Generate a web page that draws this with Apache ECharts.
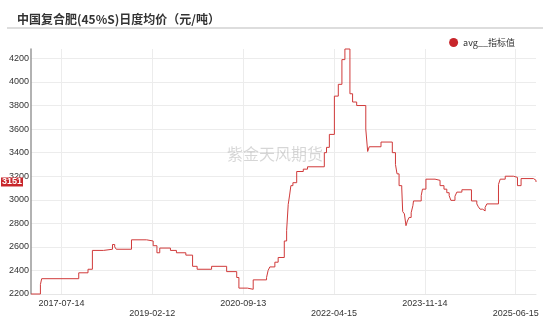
<!DOCTYPE html>
<html>
<head>
<meta charset="utf-8">
<script src="https://cdn.jsdelivr.net/npm/echarts@6/dist/echarts.min.js"></script>
<style>
html,body{margin:0;padding:0;background:#fff;}
#chart{width:550px;height:319px;}
</style>
</head>
<body>
<div id="chart"></div>
<script>
// ---- data (step change points) ----
const titleText = '中国复合肥(45%S)日度均价（元/吨）';
const seriesName = 'avg__指标值';
const startDate = '2017-01-01';
const endDate = '2025-10-22';
const xTickLabels = ['2017-07-14', '2019-02-12', '2020-09-13', '2022-04-15', '2023-11-14', '2025-06-15'];
const yTicks = [2200, 2400, 2600, 2800, 3000, 3200, 3400, 3600, 3800, 4000, 4200];

const changeDates = [
  '2017-01-01','2017-03-02','2017-03-10','2017-11-01','2017-12-30','2018-01-27','2018-04-08','2018-06-04','2018-06-18','2018-06-28',
  '2018-10-03','2019-01-07','2019-02-18','2019-03-14','2019-04-01','2019-06-08','2019-07-16','2019-09-14','2019-10-27','2019-11-25',
  '2020-02-25','2020-05-31','2020-08-03','2020-08-17','2020-10-10','2020-11-16','2021-02-09','2021-02-19','2021-03-02','2021-04-03',
  '2021-04-24','2021-06-02','2021-06-17','2021-06-27','2021-07-06','2021-07-14','2021-07-27','2021-08-20','2021-10-01','2021-10-28',
  '2022-02-12','2022-02-26','2022-03-16','2022-04-17','2022-05-12','2022-06-04','2022-06-23','2022-07-25','2022-08-11','2022-09-06',
  '2022-11-03','2022-11-15','2022-11-25','2023-02-08','2023-04-21','2023-05-11','2023-05-21','2023-06-03','2023-06-20','2023-06-26',
  '2023-07-07','2023-07-17','2023-07-26','2023-08-06','2023-08-19','2023-08-30','2023-09-03','2023-10-22','2023-10-30','2023-11-21',
  '2024-01-18','2024-02-19','2024-03-15','2024-04-02','2024-04-17','2024-04-28','2024-05-24','2024-06-05','2024-07-07','2024-09-06',
  '2024-10-10','2024-10-20','2024-10-31','2024-11-17','2024-12-02','2024-12-13','2025-02-25','2025-03-08','2025-04-09','2025-05-31',
  '2025-06-26','2025-07-19','2025-10-06','2025-10-22'
];
const changeValues = [
  2200,2280,2330,2380,2410,2570,2580,2620,2600,2580,
  2660,2650,2610,2550,2590,2570,2550,2530,2435,2410,
  2435,2390,2340,2250,2240,2320,2340,2400,2430,2470,
  2510,2650,2740,2960,3040,3120,3145,3240,3260,3280,
  3400,3445,3555,3880,3980,4190,4280,3900,3830,3800,
  3600,3410,3450,3490,3400,3300,3220,3120,3100,2900,
  2880,2780,2820,2850,2890,2950,2990,3035,3090,3175,
  3165,3120,3090,3060,3035,2995,3030,3065,3085,2990,
  2965,2940,2920,2905,2935,2965,3130,3175,3200,3190,
  3120,3180,3165,3151
];

// ---- daily categories for the axis ----
function fmt(d){
  const m = d.getUTCMonth()+1, day = d.getUTCDate();
  return d.getUTCFullYear() + '-' + (m<10?'0':'') + m + '-' + (day<10?'0':'') + day;
}
const categories = [];
{
  const s = new Date(startDate + 'T00:00:00Z'), e = new Date(endDate + 'T00:00:00Z');
  for (let t = s.getTime(); t <= e.getTime(); t += 86400000) categories.push(fmt(new Date(t)));
}
const seriesData = changeDates.map((d, i) => [d, changeValues[i]]);
const lastValue = changeValues[changeValues.length - 1];
const tickSet = new Set(xTickLabels);

const chart = echarts.init(document.getElementById('chart'), null, {renderer: 'canvas'});
const baseFont = 'Liberation Sans, Arial, sans-serif';
chart.setOption({
  animation: false,
  backgroundColor: '#fff',
  title: {
    text: titleText,
    left: 12, top: 8,
    textStyle: {fontSize: 12, fontWeight: 'bold', color: '#333', fontFamily: 'Noto Sans CJK SC, sans-serif'}
  },
  legend: {
    right: 30, top: 33,
    icon: 'circle', itemWidth: 9, itemHeight: 9, itemGap: 5,
    textStyle: {fontSize: 9, color: '#333', fontFamily: 'Noto Sans CJK SC, ' + baseFont},
    data: [seriesName]
  },
  graphic: [
    {type: 'line', shape: {x1: 7, y1: 28, x2: 543, y2: 28}, style: {stroke: '#dddddd', lineWidth: 2}, silent: true},
    {type: 'text', x: 275, y: 154, style: {text: '紫金天风期货', fill: 'rgba(0,0,0,0.16)', font: '16px "Noto Sans CJK SC", sans-serif', textAlign: 'center', textVerticalAlign: 'middle'}, silent: true, z: 100}
  ],
  grid: {left: 31, right: 14, top: 49, bottom: 23, containLabel: false},
  xAxis: {
    type: 'category',
    data: categories,
    boundaryGap: false,
    axisLine: {show: true, lineStyle: {color: '#e6e6e6'}},
    axisTick: {show: false},
    axisLabel: {
      interval: (i, v) => tickSet.has(v),
      formatter: (v) => (xTickLabels.indexOf(v) % 2 === 1 ? '\n' + v : v),
      fontSize: 9, color: '#333', margin: 5, lineHeight: 10, fontFamily: baseFont
    },
    splitLine: {show: true, interval: (i, v) => tickSet.has(v), lineStyle: {color: '#ececec', width: 1}}
  },
  yAxis: {
    type: 'value',
    min: yTicks[0], max: 4280, interval: 200,
    axisLine: {show: true, lineStyle: {color: '#999', width: 1.5}},
    axisTick: {show: false},
    axisLabel: {fontSize: 9, color: '#333', margin: 2, showMaxLabel: false, fontFamily: baseFont,
      formatter: (v) => String(v)},
    splitLine: {show: true, showMaxLine: false, lineStyle: {color: '#ececec', width: 1}}
  },
  series: [{
    name: seriesName,
    type: 'line',
    step: 'end',
    clip: false,
    data: seriesData,
    showSymbol: false,
    symbol: 'none',
    itemStyle: {color: '#c8262b'},
    lineStyle: {color: '#d03a3a', width: 1},
    markLine: {
      silent: true, symbol: ['none', 'none'],
      lineStyle: {width: 0, color: 'transparent'},
      z: 10,
      label: {
        show: true,
        position: 'start', formatter: String(lastValue), distance: 8,
        backgroundColor: '#c8262b', color: '#fff', fontSize: 9, fontWeight: 'bold',
        padding: [0, 1, 0, 1], lineHeight: 9, fontFamily: baseFont
      },
      data: [{yAxis: lastValue}]
    }
  }]
});
</script>
</body>
</html>
